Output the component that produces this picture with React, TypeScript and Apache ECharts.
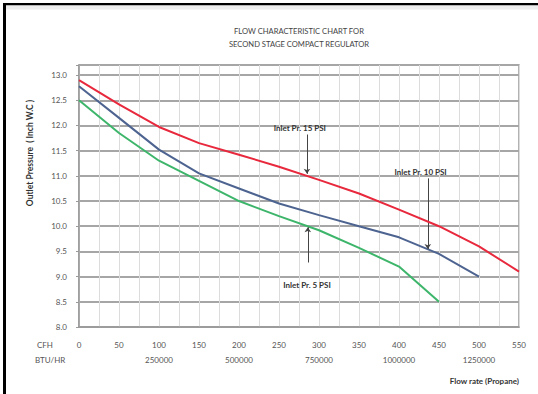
import React, { useEffect, useRef } from "react";
import * as echarts from "echarts";

const titleLines = ["FLOW CHARACTERISTIC CHART FOR", "SECOND STAGE COMPACT REGULATOR"];
const cfh = [0, 50, 100, 150, 200, 250, 300, 350, 400, 450, 500, 550];
const red15 = [12.9, 12.42, 11.97, 11.65, 11.42, 11.18, 10.92, 10.65, 10.33, 10.0, 9.6, 9.1];
const blue10 = [12.78, 12.15, 11.52, 11.05, 10.75, 10.45, 10.22, 10.0, 9.78, 9.45, 9.0];
const green5 = [12.5, 11.85, 11.3, 10.9, 10.5, 10.2, 9.92, 9.57, 9.2, 8.5];
const btuAt = [100, 200, 300, 400, 500];
const btuLabels = ["250000", "500000", "750000", "1000000", "1250000"];
const yTicks = [8.0, 8.5, 9.0, 9.5, 10.0, 10.5, 11.0, 11.5, 12.0, 12.5, 13.0];
const seriesNames = ["Inlet Pr. 15 PSI", "Inlet Pr. 10 PSI", "Inlet Pr. 5 PSI"];
// annotation anchors in data units: [label x, label y, arrow x, arrow from y, arrow to y]
const ann15 = [276, 11.95, 285, 11.82, 11.04];
const ann10 = [427, 11.08, 436, 10.95, 9.55];
const ann5 = [285, 8.83, 286, 9.28, 9.98];

const FONT = "Lato, 'Open Sans', sans-serif";

function pairs(ys: number[]) {
  return ys.map((y, i) => [cfh[i], y]);
}

function annotate(a: number[], name: string) {
  return {
    markLine: {
      silent: true,
      symbol: ["none", "arrow"],
      symbolSize: 5,
      lineStyle: { color: "#444", width: 1, type: "solid" },
      label: { show: false },
      data: [[{ coord: [a[2], a[3]] }, { coord: [a[2], a[4]] }]],
    },
    markPoint: {
      silent: true,
      symbol: "circle",
      symbolSize: 0,
      label: {
        show: true,
        position: "inside",
        formatter: "{b}",
        color: "#333",
        fontWeight: "bold",
        fontSize: 8,
        fontFamily: FONT,
      },
      data: [{ name, coord: [a[0], a[1]] }],
    },
  };
}

export default function App() {
  const ref = useRef<HTMLDivElement>(null);
  useEffect(() => {
    if (!ref.current) return;
    const chart = echarts.init(ref.current, null, { renderer: "svg" });
    chart.setOption({
      animation: false,
      backgroundColor: "#ffffff",
      grid: {
        left: 79,
        right: 19,
        top: 65,
        bottom: 67,
        show: true,
        borderColor: "#999",
        borderWidth: 1.5,
      },
      graphic: [
        { type: "rect", shape: { x: 3, y: 3, width: 535, height: 2.5 }, style: { fill: "#000" } },
        { type: "rect", shape: { x: 6, y: 5.5, width: 532, height: 4 }, style: { fill: "#eeeeee" } },
        { type: "rect", shape: { x: 3, y: 3, width: 3, height: 391 }, style: { fill: "#000" } },
        {
          type: "text",
          x: 299,
          y: 31,
          style: { text: titleLines[0], fill: "#444", font: `7.6px ${FONT}`, align: "center", verticalAlign: "middle" },
        },
        {
          type: "text",
          x: 299,
          y: 44,
          style: { text: titleLines[1], fill: "#444", font: `7.6px ${FONT}`, align: "center", verticalAlign: "middle" },
        },
        {
          type: "text",
          x: 30,
          y: 153,
          rotation: Math.PI / 2,
          style: {
            text: "Outlet Pressure  ( Inch W.C )",
            fill: "#333",
            font: `bold 8.5px ${FONT}`,
            align: "center",
            verticalAlign: "middle",
          },
        },
        {
          type: "text",
          x: 37,
          y: 345,
          style: { text: "CFH", fill: "#555", font: `8px ${FONT}`, align: "left", verticalAlign: "middle" },
        },
        {
          type: "text",
          x: 35,
          y: 360,
          style: { text: "BTU/HR", fill: "#555", font: `8px ${FONT}`, align: "left", verticalAlign: "middle" },
        },
        {
          type: "text",
          x: 519,
          y: 381,
          style: {
            text: "Flow rate (Propane)",
            fill: "#333",
            font: `bold 8px ${FONT}`,
            align: "right",
            verticalAlign: "middle",
          },
        },
      ],
      xAxis: {
        type: "value",
        min: 0,
        max: 550,
        interval: 25,
        axisLine: { show: true, lineStyle: { color: "#999", width: 1.5 } },
        axisTick: { show: false },
        splitLine: { show: true, lineStyle: { color: "#dcdcdc", width: 1 } },
        axisLabel: {
          margin: 10,
          color: "#555",
          fontSize: 8,
          fontFamily: FONT,
          lineHeight: 15,
          formatter: (v: number) => {
            if (v % 50 !== 0) return "";
            const k = btuAt.indexOf(v);
            return k >= 0 ? `${v}\n${btuLabels[k]}` : `${v}`;
          },
        },
      },
      yAxis: {
        type: "value",
        min: yTicks[0],
        max: 13.2,
        interval: 0.5,
        axisLine: { show: true, lineStyle: { color: "#999", width: 1.5 } },
        axisTick: { show: true, length: 3, lineStyle: { color: "#999" } },
        splitLine: { show: true, lineStyle: { color: "#a6a6a6", width: 2 } },
        axisLabel: {
          margin: 12,
          color: "#555",
          fontSize: 8,
          fontFamily: FONT,
          formatter: (v: number) => {
            const t = yTicks.find((x) => Math.abs(x - v) < 1e-6);
            return t === undefined ? "" : t.toFixed(1);
          },
        },
      },
      series: [
        {
          name: seriesNames[0],
          type: "line",
          data: pairs(red15),
          showSymbol: false,
          lineStyle: { color: "#e8283c", width: 2 },
          itemStyle: { color: "#e8283c" },
          z: 5,
          ...annotate(ann15, seriesNames[0]),
        },
        {
          name: seriesNames[1],
          type: "line",
          data: pairs(blue10),
          showSymbol: false,
          lineStyle: { color: "#4d6390", width: 2 },
          itemStyle: { color: "#4d6390" },
          z: 4,
          ...annotate(ann10, seriesNames[1]),
        },
        {
          name: seriesNames[2],
          type: "line",
          data: pairs(green5),
          showSymbol: false,
          lineStyle: { color: "#3db56a", width: 2 },
          itemStyle: { color: "#3db56a" },
          z: 3,
          ...annotate(ann5, seriesNames[2]),
        },
      ],
    });
    return () => chart.dispose();
  }, []);
  return (
    <div
      ref={ref}
      style={{ position: "fixed", left: 0, top: 0, width: 538, height: 394, background: "#fff" }}
    />
  );
}
